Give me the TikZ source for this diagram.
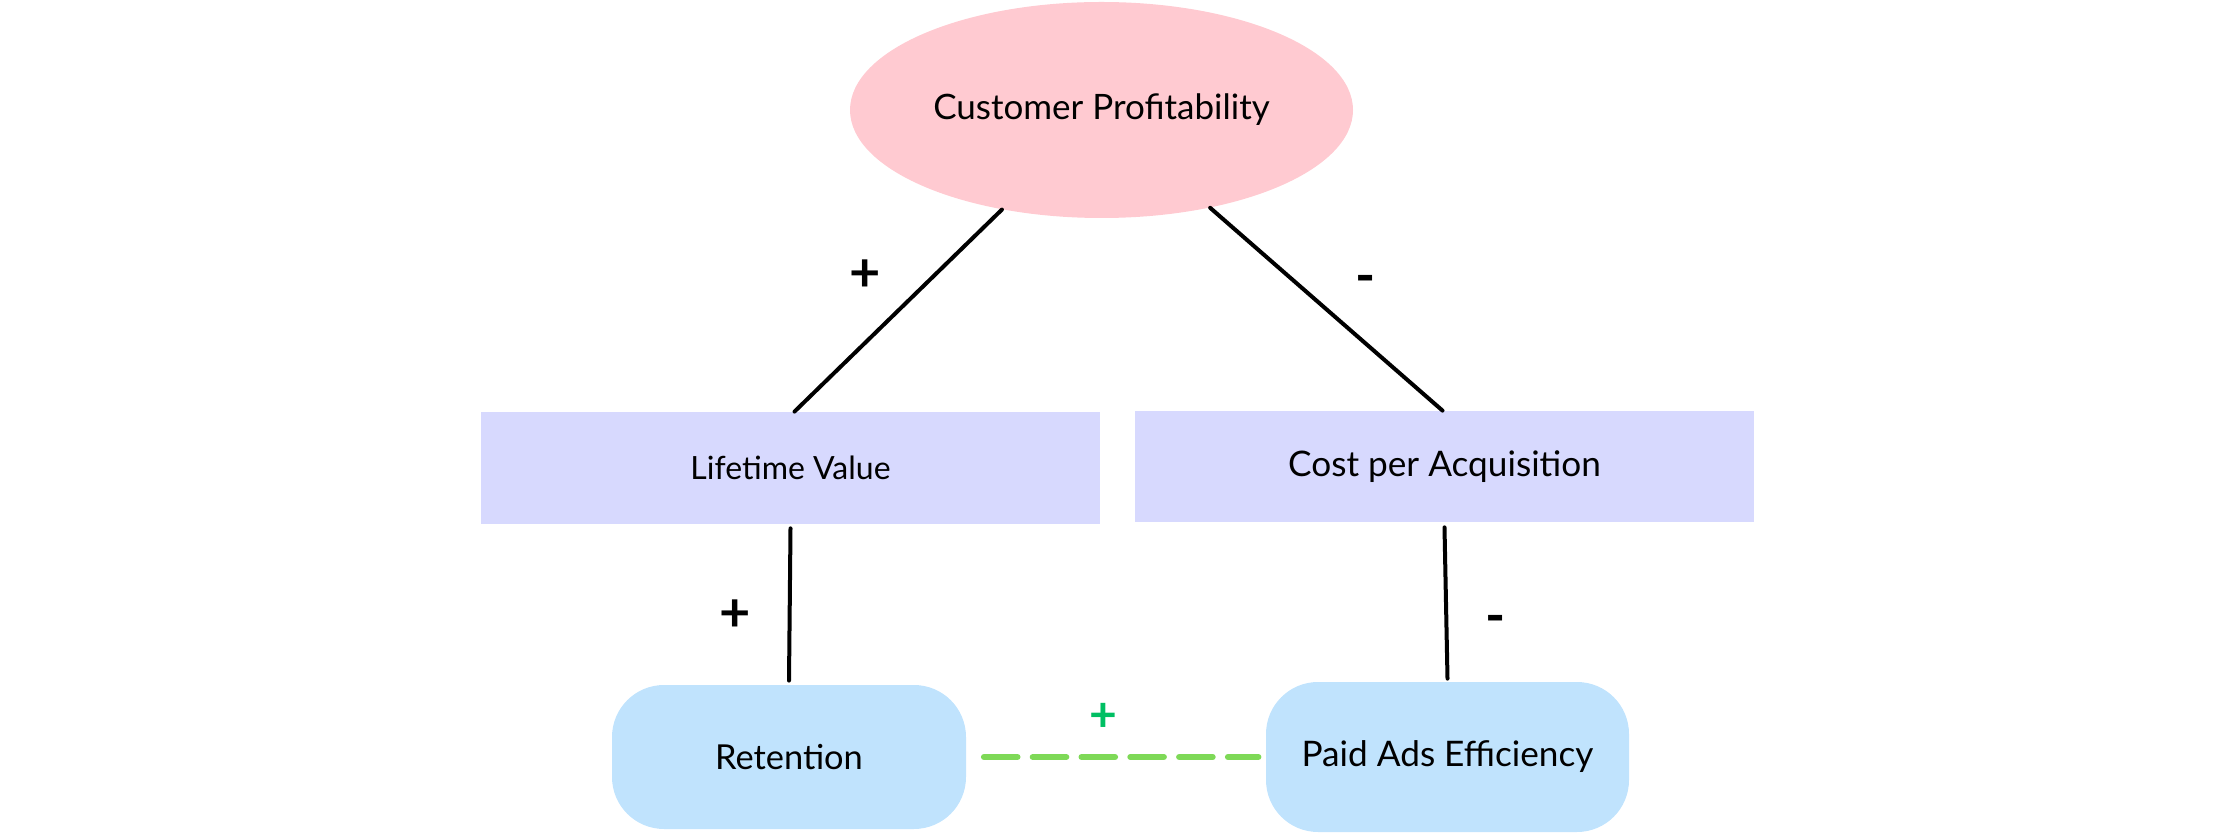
\documentclass[tikz,border=0pt]{standalone}
\usepackage{fontspec}
\setmainfont{Lato}
\usetikzlibrary{shapes.geometric}
\definecolor{pinkfill}{HTML}{FFCAD1}
\definecolor{lavfill}{HTML}{D7D9FE}
\definecolor{bluefill}{HTML}{C0E3FD}
\definecolor{dashgreen}{HTML}{7ED957}
\definecolor{plusgreen}{HTML}{00BF63}
\tikzset{
  ellnode/.style={ellipse, fill=pinkfill, inner sep=0pt, minimum width=251.5pt, minimum height=108pt, font=\fontsize{17.5}{20}\selectfont},
  rectnode/.style={rectangle, fill=lavfill, inner sep=0pt, minimum width=309.5pt, minimum height=56pt},
  roundnode/.style={rectangle, rounded corners=26pt, fill=bluefill, inner sep=0pt},
  link/.style={line width=2pt, line cap=round, black},
  dlink/.style={line width=3pt, line cap=round, dashgreen, dash pattern=on 16.8pt off 7.6pt},
  sign/.style={inner sep=0pt, font=\bfseries\fontsize{27}{30}\selectfont}
}
\begin{document}
\begin{tikzpicture}[x=0.5pt,y=-0.5pt]
\useasboundingbox (0,0) rectangle (2238,833);
\node[ellnode] (cp) at (1101.5,110) {Customer Profitability};
\node[rectnode, font=\fontsize{16}{18}\selectfont] (ltv) at (790.5,468) {Lifetime Value};
\node[rectnode, minimum height=55.5pt, font=\fontsize{17.6}{20}\selectfont] (cpa) at (1444.5,466.5) {Cost per Acquisition};
\node[roundnode, minimum width=177pt, minimum height=72pt, font=\fontsize{17.2}{20}\selectfont] (ret) at (789,757) {Retention};
\node[roundnode, minimum width=181.5pt, minimum height=75pt, font=\fontsize{17.6}{20}\selectfont] (pae) at (1447.5,757) {Paid Ads Efficiency};
\draw[link] (cp.225) -- ([xshift=2pt]ltv.north);
\draw[link] (cp.318.5) -- ([xshift=-1pt]cpa.north);
\draw[link] ([yshift=-2pt]ltv.south) -- ([yshift=2pt]ret.north);
\draw[link] ([yshift=-2.5pt]cpa.south) -- ([yshift=1.5pt]pae.north);
\draw[dlink] ([xshift=8.75pt]ret.east) -- ([xshift=-3.6pt]pae.west);
\node[sign] (s1) at (865,276) {+};
\node[sign] (s2) at (1366,285) {-};
\node[sign] (s3) at (735,616) {+};
\node[sign] (s4) at (1496,625) {-};
\node[sign, text=plusgreen, font=\bfseries\fontsize{24}{26}\selectfont] (s5) at (1103,717) {+};
\end{tikzpicture}
\end{document}
